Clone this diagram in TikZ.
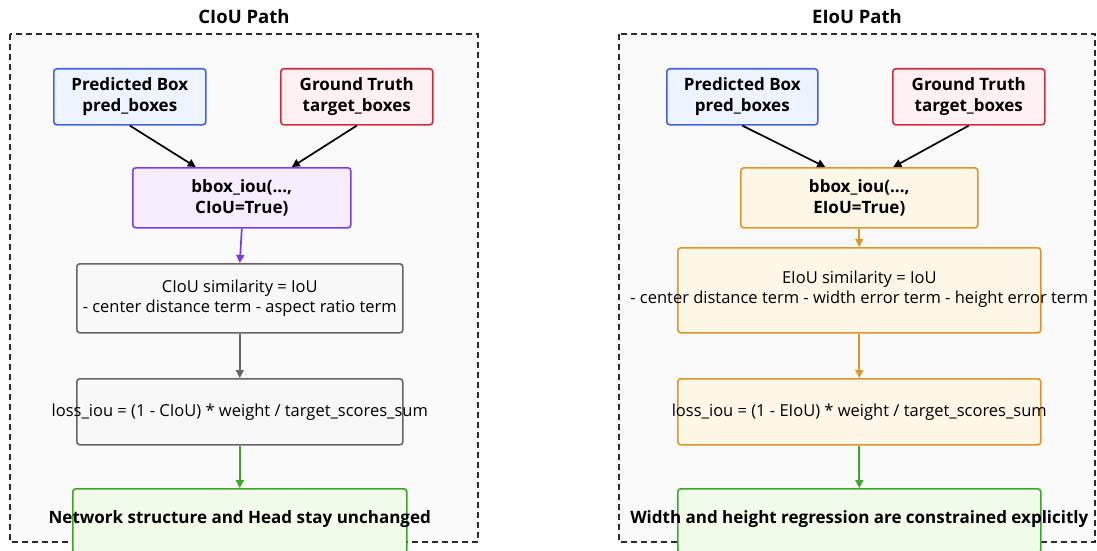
\documentclass[tikz,border=0pt]{standalone}
\usepackage{fontspec}
\setmainfont{Open Sans}
\usetikzlibrary{arrows.meta,calc}

\definecolor{panelfill}{HTML}{FAFAFA}
\definecolor{panelline}{HTML}{2B2B2B}
\definecolor{blueline}{HTML}{3F63E6}
\definecolor{bluefill}{HTML}{EEF4FF}
\definecolor{redline}{HTML}{D42A3C}
\definecolor{redfill}{HTML}{FFF1F1}
\definecolor{purpleline}{HTML}{7D3AE8}
\definecolor{purplefill}{HTML}{F6EEFE}
\definecolor{grayline}{HTML}{666666}
\definecolor{grayfill}{HTML}{F8F8F8}
\definecolor{orangeline}{HTML}{DF9527}
\definecolor{orangefill}{HTML}{FDF7E7}
\definecolor{greenline}{HTML}{3BA828}
\definecolor{greenfill}{HTML}{F2FCEB}

\tikzset{
  panel/.style={draw=panelline, fill=panelfill, line width=1.3pt, dash pattern=on 6pt off 4pt},
  boxshape/.style={draw, rounded corners=3pt, line width=1.6pt, inner sep=0pt, anchor=north west},
  txt/.style={align=center, inner sep=0pt, font=\fontsize{16.5}{20}\selectfont},
  btxt/.style={align=center, inner sep=0pt, font=\fontsize{17}{20.5}\selectfont\bfseries},
  ttl/.style={inner sep=0pt, font=\fontsize{18.5}{20}\selectfont\bfseries},
  link/.style={line width=1.7pt, -{Triangle[length=8pt,width=8pt]}},
}

\begin{document}
\begin{tikzpicture}[x=1pt,y=-1pt]
\useasboundingbox (0,0) rectangle (1097,551);
\clip (0,0) rectangle (1097,551);

% ---------- left panel: CIoU ----------
\draw[panel] (10,34) rectangle (478,542);
\node[ttl] (ltitle) at (244,17) {CIoU Path};

\node[boxshape, draw=blueline, fill=bluefill, minimum width=152pt, minimum height=56pt] (lpred) at (53,68) {};
\node[btxt] (lpredt) at (lpred.center) {Predicted Box\\pred\_boxes};
\node[boxshape, draw=redline, fill=redfill, minimum width=152pt, minimum height=56pt] (lgt) at (280,68) {};
\node[btxt] (lgtt) at (lgt.center) {Ground Truth\\target\_boxes};

\node[boxshape, draw=purpleline, fill=purplefill, minimum width=218pt, minimum height=60pt] (lbb) at (132,167) {};
\node[btxt] (lbbt) at (lbb.center) {bbox\_iou(...,\\CIoU=True)};

\node[boxshape, draw=grayline, fill=grayfill, minimum width=326pt, minimum height=69pt] (lsim) at (76,263) {};
\node[txt] (lsimt) at (lsim.center) {CIoU similarity = IoU\\- center distance term - aspect ratio term};

\node[boxshape, draw=grayline, fill=grayfill, minimum width=326pt, minimum height=66pt] (lloss) at (76,378) {};
\node[txt] (llosst) at (lloss.center) {loss\_iou = (1 - CIoU) * weight / target\_scores\_sum};

\node[boxshape, draw=greenline, fill=greenfill, minimum width=334pt, minimum height=64pt] (lres) at (72,488) {};
\node[btxt] (lrest) at ($(lres.north)+(0,31)$) {Network structure and Head stay unchanged};

\draw[link] (lpred.south) -- ($(lbb.north)+(-46,0)$);
\draw[link] (lgt.south) -- ($(lbb.north)+(50,0)$);
\draw[link, purpleline] (lbb.south) -- (lsim.north);
\draw[link, grayline] (lsim.south) -- (lloss.north);
\draw[link, greenline] (lloss.south) -- (lres.north);

% ---------- right panel: EIoU ----------
\draw[panel] (619,34) rectangle (1095,542);
\node[ttl] (rtitle) at (857,17) {EIoU Path};

\node[boxshape, draw=blueline, fill=bluefill, minimum width=151pt, minimum height=56pt] (rpred) at (666,68) {};
\node[btxt] (rpredt) at (rpred.center) {Predicted Box\\pred\_boxes};
\node[boxshape, draw=redline, fill=redfill, minimum width=152pt, minimum height=56pt] (rgt) at (892,68) {};
\node[btxt] (rgtt) at (rgt.center) {Ground Truth\\target\_boxes};

\node[boxshape, draw=orangeline, fill=orangefill, minimum width=237pt, minimum height=60pt] (rbb) at (740,167) {};
\node[btxt] (rbbt) at (rbb.center) {bbox\_iou(...,\\EIoU=True)};

\node[boxshape, draw=orangeline, fill=orangefill, minimum width=363pt, minimum height=85pt] (rsim) at (677,247) {};
\node[txt] (rsimt) at ($(rsim.center)+(0,-1)$) {EIoU similarity = IoU\\- center distance term - width error term - height error term};

\node[boxshape, draw=orangeline, fill=orangefill, minimum width=363pt, minimum height=66pt] (rloss) at (677,378) {};
\node[txt] (rlosst) at (rloss.center) {loss\_iou = (1 - EIoU) * weight / target\_scores\_sum};

\node[boxshape, draw=greenline, fill=greenfill, minimum width=363pt, minimum height=64pt] (rres) at (677,488) {};
\node[btxt] (rrest) at ($(rres.north)+(0,31)$) {Width and height regression are constrained explicitly};

\draw[link] (rpred.south) -- ($(rbb.north)+(-34,0)$);
\draw[link] (rgt.south) -- ($(rbb.north)+(34,0)$);
\draw[link, orangeline] (rbb.south) -- (rsim.north);
\draw[link, orangeline] (rsim.south) -- (rloss.north);
\draw[link, greenline] (rloss.south) -- (rres.north);
\end{tikzpicture}
\end{document}
